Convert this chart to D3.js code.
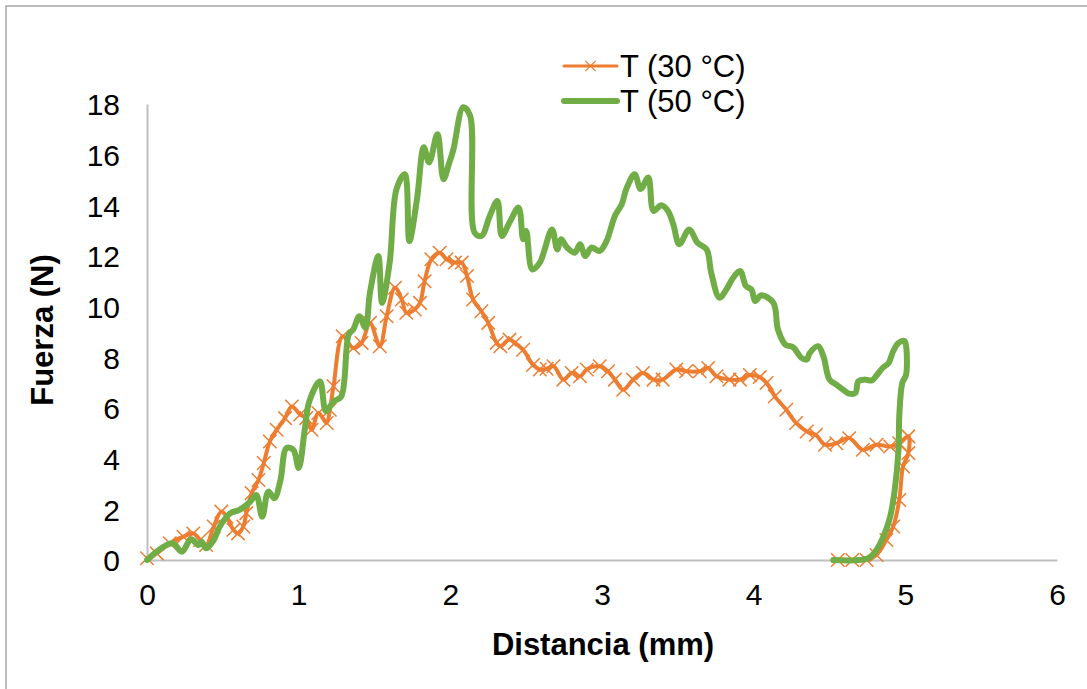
<!DOCTYPE html>
<html>
<head>
<meta charset="utf-8">
<script src="https://cdn.jsdelivr.net/npm/d3@7"></script>
<style>
  html, body { margin: 0; padding: 0; background: #fff; }
  svg { display: block; font-family: "Liberation Sans", Arial, sans-serif; }
</style>
</head>
<body>
<div id="chart"></div>
<script>
"use strict";

// Series (distance in mm, force in N)
const seriesNames = ["T (30 °C)", "T (50 °C)"];
const xTicks = [0, 1, 2, 3, 4, 5, 6];
const yTicks = [0, 2, 4, 6, 8, 10, 12, 14, 16, 18];

const t30 = [
  [0, 0.07], [0.065, 0.26], [0.15, 0.66], [0.24, 0.92], [0.305, 1.05], [0.35, 0.79],
  [0.39, 0.59], [0.44, 1.32], [0.49, 1.91], [0.525, 1.71], [0.57, 1.19], [0.6, 1.05],
  [0.635, 1.32], [0.655, 1.85], [0.69, 2.64], [0.735, 3.16], [0.77, 3.83], [0.81, 4.68],
  [0.855, 5.14], [0.91, 5.6], [0.955, 6.06], [1.01, 5.74], [1.05, 5.6], [1.085, 5.14],
  [1.13, 5.8], [1.185, 5.41], [1.205, 5.93], [1.23, 6.86], [1.29, 8.83], [1.36, 8.37],
  [1.415, 8.57], [1.47, 9.36], [1.535, 8.44], [1.58, 9.62], [1.635, 10.75], [1.68, 10.28],
  [1.71, 9.76], [1.765, 9.89], [1.8, 10.15], [1.83, 11.0], [1.875, 11.87], [1.93, 12.13],
  [1.975, 11.87], [2.03, 11.74], [2.075, 11.74], [2.11, 11.21], [2.15, 10.28], [2.205, 9.82],
  [2.25, 9.36], [2.305, 8.57], [2.33, 8.44], [2.39, 8.7], [2.425, 8.57], [2.48, 8.3],
  [2.545, 7.7], [2.59, 7.52], [2.635, 7.55], [2.68, 7.65], [2.745, 7.12], [2.8, 7.38],
  [2.855, 7.25], [2.9, 7.52], [2.985, 7.65], [3.04, 7.45], [3.085, 7.12], [3.14, 6.72],
  [3.205, 7.12], [3.27, 7.38], [3.34, 7.12], [3.4, 7.12], [3.49, 7.52], [3.555, 7.45],
  [3.645, 7.45], [3.7, 7.58], [3.755, 7.25], [3.84, 7.12], [3.91, 7.12], [3.975, 7.3],
  [4.04, 7.22], [4.085, 6.99], [4.14, 6.46], [4.215, 5.93], [4.28, 5.41], [4.35, 5.07],
  [4.41, 4.94], [4.47, 4.55], [4.545, 4.61], [4.63, 4.81], [4.72, 4.35], [4.81, 4.55],
  [4.9, 4.48], [4.96, 4.61], [5.02, 4.88], [5.02, 4.22], [4.985, 3.69], [4.96, 2.37],
  [4.92, 1.32], [4.875, 0.79], [4.81, 0.2], [4.745, 0], [4.65, 0], [4.555, 0]
];

const t50 = [
  [0, 0], [0.105, 0.51], [0.17, 0.66], [0.23, 0.33], [0.29, 0.82], [0.34, 0.59],
  [0.36, 0.72], [0.39, 0.46], [0.44, 0.79], [0.48, 1.32], [0.55, 1.85], [0.61, 1.98],
  [0.68, 2.3], [0.72, 2.57], [0.76, 1.71], [0.8, 2.7], [0.84, 2.44], [0.88, 3.16],
  [0.92, 4.42], [0.965, 4.35], [1.0, 3.63], [1.04, 5.14], [1.07, 6.26], [1.14, 7.05],
  [1.18, 5.87], [1.23, 6.26], [1.28, 6.45], [1.33, 8.9], [1.36, 9.1], [1.4, 9.62],
  [1.44, 9.17], [1.47, 10.55], [1.525, 12.0], [1.55, 10.15], [1.6, 11.74], [1.645, 14.64],
  [1.7, 15.23], [1.73, 12.59], [1.78, 14.24], [1.825, 16.29], [1.86, 15.69], [1.915, 16.81],
  [1.955, 15.03], [1.99, 15.62], [2.02, 16.2], [2.085, 17.87], [2.13, 17.54], [2.16, 12.92],
  [2.205, 12.79], [2.26, 13.58], [2.31, 14.17], [2.34, 12.79], [2.39, 13.32], [2.45, 13.91],
  [2.48, 12.66], [2.5, 12.99], [2.54, 11.47], [2.59, 11.74], [2.67, 13.05], [2.705, 12.26],
  [2.73, 12.66], [2.77, 12.33], [2.82, 12.13], [2.855, 12.46], [2.89, 12.0], [2.93, 12.33],
  [2.985, 12.2], [3.03, 12.59], [3.085, 13.58], [3.13, 14.04], [3.16, 14.64], [3.215, 15.23],
  [3.255, 14.64], [3.305, 15.1], [3.34, 13.78], [3.39, 14.0], [3.435, 13.78], [3.47, 13.25],
  [3.51, 12.46], [3.575, 13.05], [3.63, 12.52], [3.69, 12.26], [3.72, 11.34], [3.775, 10.35],
  [3.82, 10.68], [3.865, 11.14], [3.91, 11.41], [3.95, 10.81], [3.985, 10.68], [4.01, 10.22],
  [4.05, 10.45], [4.13, 10.15], [4.16, 9.1], [4.21, 8.5], [4.26, 8.4], [4.315, 7.98],
  [4.35, 7.91], [4.37, 8.17], [4.425, 8.44], [4.46, 8.04], [4.5, 7.12], [4.545, 6.92],
  [4.59, 6.72], [4.63, 6.57], [4.67, 6.59], [4.69, 7.05], [4.73, 7.12], [4.78, 7.09],
  [4.81, 7.28], [4.85, 7.58], [4.89, 7.78], [4.92, 8.24], [4.955, 8.57], [4.995, 8.64],
  [5.005, 8.44], [5.005, 7.32], [4.98, 6.99], [4.96, 5.67], [4.955, 4.35], [4.93, 2.77],
  [4.9, 1.71], [4.855, 0.92], [4.81, 0.4], [4.755, 0.07], [4.525, 0]
];

const orange = "#ED7D31";
const green = "#70AD47";

const width = 1087;
const height = 689;
const margin = { top: 104, right: 30, bottom: 129, left: 147 };
const innerW = 1057 - margin.left;
const innerH = 560 - margin.top;

const svg = d3.select("#chart").append("svg").attr("width", width).attr("height", height);

// chart area border (right and bottom edges fall outside the frame)
svg.append("rect")
  .attr("x", 6).attr("y", 6)
  .attr("width", width + 20).attr("height", height + 20)
  .attr("fill", "none").attr("stroke", "#a6a6a6").attr("stroke-width", 1.5);

const g = svg.append("g").attr("transform", `translate(${margin.left},${margin.top})`);

const x = d3.scaleLinear().domain([0, 6]).range([0, innerW]);
const y = d3.scaleLinear().domain([0, 18]).range([innerH, 0]);

// axes: gray lines, no tick marks
const xAxis = g.append("g")
  .attr("transform", `translate(0,${innerH})`)
  .call(d3.axisBottom(x).tickValues(xTicks).tickSize(0).tickPadding(24).tickFormat(d3.format("d")));
const yAxis = g.append("g")
  .call(d3.axisLeft(y).tickValues(yTicks).tickSize(0).tickPadding(27).tickFormat(d3.format("d")));

[xAxis, yAxis].forEach((ax) => {
  ax.select(".domain").attr("stroke", "#bfbfbf").attr("stroke-width", 2);
  ax.selectAll("text")
    .attr("fill", "#000")
    .style("font-size", "30px")
    .style("font-family", "\"Liberation Sans\", Arial, sans-serif");
});
yAxis.selectAll("text").attr("dy", "0.36em");

const line = d3.line().x((d) => x(d[0])).y((d) => y(d[1]));
const smoothLine = d3.line().x((d) => x(d[0])).y((d) => y(d[1])).curve(d3.curveCatmullRom.alpha(0.5));

// 30 °C series with dense x markers
g.append("path")
  .datum(t30)
  .attr("fill", "none")
  .attr("stroke", orange)
  .attr("stroke-width", 4)
  .attr("stroke-linejoin", "round")
  .attr("d", smoothLine);

const cross = d3.symbol().type(d3.symbolX).size(120);
g.append("g")
  .selectAll("path")
  .data(t30)
  .join("path")
  .attr("transform", (d) => `translate(${x(d[0])},${y(d[1])})`)
  .attr("d", cross)
  .attr("fill", "none")
  .attr("stroke", orange)
  .attr("stroke-width", 1.5);

// 50 °C series
g.append("path")
  .datum(t50)
  .attr("fill", "none")
  .attr("stroke", green)
  .attr("stroke-width", 6)
  .attr("stroke-linejoin", "round")
  .attr("stroke-linecap", "round")
  .attr("d", smoothLine);

// axis titles
svg.append("text")
  .attr("x", 603).attr("y", 655)
  .attr("text-anchor", "middle")
  .style("font-size", "31px").style("font-weight", "bold")
  .text("Distancia (mm)");

svg.append("text")
  .attr("transform", "translate(53,330) rotate(-90)")
  .attr("text-anchor", "middle")
  .style("font-size", "31px").style("font-weight", "bold")
  .text("Fuerza (N)");

// legend
const legend = svg.append("g");
const legendRows = [
  { name: seriesNames[0], color: orange, width: 3, marker: true, cy: 66 },
  { name: seriesNames[1], color: green, width: 6, marker: false, cy: 101 }
];
legendRows.forEach((r) => {
  legend.append("line")
    .attr("x1", 564).attr("x2", 617).attr("y1", r.cy).attr("y2", r.cy)
    .attr("stroke", r.color).attr("stroke-width", r.width).attr("stroke-linecap", "round");
  if (r.marker) {
    legend.append("path")
      .attr("transform", `translate(590.5,${r.cy})`)
      .attr("d", d3.symbol().type(d3.symbolX).size(70))
      .attr("fill", "none").attr("stroke", r.color).attr("stroke-width", 1.3);
  }
  legend.append("text")
    .attr("x", 620).attr("y", r.cy + 11)
    .style("font-size", "31px")
    .text(r.name);
});
</script>
</body>
</html>
